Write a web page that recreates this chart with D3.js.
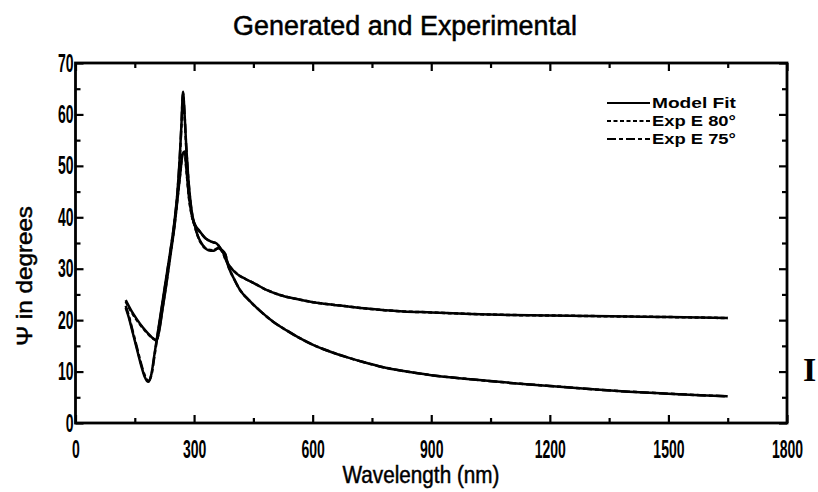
<!DOCTYPE html>
<html>
<head>
<meta charset="utf-8">
<script src="https://cdn.jsdelivr.net/npm/d3@7/dist/d3.min.js"></script>
<style>
  html, body { margin: 0; padding: 0; background: #fff; }
  svg { display: block; }
  text { fill: #000; }
</style>
</head>
<body>
<svg id="chart" width="818" height="492"></svg>
<script>
// Wavelength (nm) sampling for each curve
const lambdaA = [127, 140, 155, 170, 185, 197, 205, 212, 220, 230, 240, 250, 258, 265, 271, 276, 281, 287, 294, 302, 307, 312, 319, 328, 336, 349, 361, 373, 380, 391, 410, 430, 451, 480, 517, 560, 601, 650, 686, 730, 770, 830, 900, 1000, 1100, 1200, 1300, 1400, 1500, 1580, 1650];
// Psi (degrees), upper-tail curve: model fit and measured
const fitA = [23.9, 22.0, 20.2, 18.6, 17.3, 16.4, 16.0, 18.0, 22.0, 27.0, 32.5, 38.0, 43.5, 48.5, 52.3, 52.8, 49.0, 44.0, 40.5, 38.3, 36.9, 35.9, 34.9, 34.0, 33.6, 33.5, 34.0, 33.2, 31.8, 30.4, 28.9, 28.0, 27.2, 26.0, 24.9, 24.1, 23.5, 23.0, 22.7, 22.3, 22.0, 21.7, 21.5, 21.2, 21.0, 20.9, 20.8, 20.7, 20.6, 20.5, 20.4];
const expA = [23.6, 21.8, 20.0, 18.5, 17.2, 16.4, 16.1, 18.3, 22.3, 27.3, 32.8, 38.2, 43.7, 48.6, 52.4, 52.7, 48.8, 43.8, 40.4, 38.2, 36.9, 35.8, 34.8, 34.0, 33.7, 33.6, 34.0, 33.1, 31.7, 30.4, 28.9, 28.0, 27.2, 26.0, 24.9, 24.1, 23.5, 23.0, 22.7, 22.3, 22.0, 21.7, 21.5, 21.2, 21.0, 20.9, 20.8, 20.7, 20.6, 20.5, 20.4];

const lambdaB = [127, 135, 145, 155, 165, 175, 184, 192, 200, 210, 220, 230, 240, 250, 258, 264, 268, 272, 276, 280, 285, 291, 298, 305, 312, 329, 345, 357, 370, 378, 387, 400, 416, 440, 467, 500, 534, 565, 601, 640, 686, 730, 770, 830, 900, 1000, 1100, 1200, 1300, 1400, 1500, 1580, 1650];
// Psi (degrees), lower-tail curve: model fit and measured
const fitB = [22.4, 20.5, 17.5, 14.5, 11.5, 9.0, 8.0, 9.5, 13.5, 18.5, 23.5, 28.5, 33.5, 39.0, 45.0, 52.0, 58.0, 64.4, 60.0, 54.0, 48.0, 43.0, 39.5, 38.2, 37.5, 35.9, 35.2, 34.9, 33.6, 33.0, 30.4, 28.2, 25.9, 23.8, 21.8, 19.7, 18.0, 16.6, 15.2, 14.0, 12.8, 11.8, 11.0, 10.1, 9.3, 8.5, 7.8, 7.2, 6.6, 6.1, 5.7, 5.4, 5.2];
const expB = [22.8, 20.8, 17.8, 14.8, 11.8, 9.3, 8.2, 9.3, 13.2, 18.2, 23.2, 28.3, 33.3, 38.8, 44.8, 51.8, 57.8, 64.0, 59.8, 53.8, 47.8, 42.8, 39.4, 38.1, 37.4, 35.9, 35.2, 34.9, 33.6, 33.0, 30.4, 28.2, 25.9, 23.8, 21.8, 19.7, 18.0, 16.6, 15.2, 14.0, 12.8, 11.8, 11.0, 10.1, 9.3, 8.5, 7.8, 7.2, 6.6, 6.1, 5.7, 5.4, 5.2];

// Axis ticks
const xMajor = [0, 300, 600, 900, 1200, 1500, 1800];
const xMinor = [150, 450, 750, 1050, 1350, 1650];
const yMajor = [0, 10, 20, 30, 40, 50, 60, 70];
const yMinor = [5, 15, 25, 35, 45, 55, 65];

// Legend entries
const legendLabels = ["Model Fit", "Exp E 80°", "Exp E 75°"];
const legendDash = [null, "4,2.5", "9,3,4,3"];

const svg = d3.select("#chart");
const FONT = "'Liberation Sans', Arial, sans-serif";
const TICK_SX = 0.56;

const x = d3.scaleLinear().domain([0, 1800]).range([75.5, 787]);
const y = d3.scaleLinear().domain([0, 70]).range([423, 63]);

// Horizontal scale factor that makes a text element span a given width
function squeeze(sel, width) {
  const w = sel.node().getComputedTextLength();
  return width / w;
}

// Curves
const line = d3.line().x(d => x(d[0])).y(d => y(d[1])).curve(d3.curveMonotoneX);
const curves = [
  { lam: lambdaA, psi: fitA, dash: null },
  { lam: lambdaB, psi: fitB, dash: null },
  { lam: lambdaA, psi: expA, dash: "4,2.5" },
  { lam: lambdaB, psi: expB, dash: "9,3,4,3" }
];
svg.append("g").selectAll("path").data(curves).join("path")
  .attr("d", c => line(c.lam.map((l, i) => [l, c.psi[i]])))
  .attr("fill", "none")
  .attr("stroke", "#000")
  .attr("stroke-width", 2.5)
  .attr("stroke-linejoin", "round")
  .attr("stroke-dasharray", c => c.dash);

// Axes: inward ticks on all four sides
function styleAxis(g) {
  g.select(".domain").remove();
  g.selectAll(".tick line").attr("stroke", "#000").attr("stroke-width", 2.2);
}
const fmt = d3.format("d");
const bottom = svg.append("g").attr("transform", `translate(0,${y(0)})`);
bottom.call(d3.axisBottom(x).tickValues(xMajor).tickFormat(fmt).tickSize(-8).tickSizeOuter(0).tickPadding(17))
  .call(styleAxis);
bottom.append("g").call(d3.axisBottom(x).tickValues(xMinor).tickSize(-5).tickFormat("")).call(styleAxis);
bottom.selectAll(".tick text")
  .attr("font-family", FONT).attr("font-size", 25).attr("font-weight", "bold")
  .attr("fill", "#000")
  .attr("transform", `scale(${TICK_SX},1)`);

const topAx = svg.append("g").attr("transform", `translate(0,${y(70)})`);
topAx.call(d3.axisTop(x).tickValues(xMajor).tickSize(-8).tickFormat("")).call(styleAxis);
topAx.append("g").call(d3.axisTop(x).tickValues(xMinor).tickSize(-5).tickFormat("")).call(styleAxis);

const left = svg.append("g").attr("transform", `translate(${x(0)},0)`);
left.call(d3.axisLeft(y).tickValues(yMajor).tickFormat(fmt).tickSize(-8).tickSizeOuter(0).tickPadding(2))
  .call(styleAxis);
left.append("g").call(d3.axisLeft(y).tickValues(yMinor).tickSize(-5).tickFormat("")).call(styleAxis);
left.selectAll(".tick text")
  .attr("font-family", FONT).attr("font-size", 25).attr("font-weight", "bold")
  .attr("fill", "#000")
  .attr("x", -2 / TICK_SX)
  .attr("transform", `scale(${TICK_SX},1)`);

const right = svg.append("g").attr("transform", `translate(${x(1800)},0)`);
right.call(d3.axisRight(y).tickValues(yMajor).tickSize(-8).tickFormat("")).call(styleAxis);
right.append("g").call(d3.axisRight(y).tickValues(yMinor).tickSize(-5).tickFormat("")).call(styleAxis);

// Frame
svg.append("rect")
  .attr("x", x(0)).attr("y", y(70))
  .attr("width", x(1800) - x(0)).attr("height", y(0) - y(70))
  .attr("fill", "none").attr("stroke", "#000").attr("stroke-width", 2.8);

// Titles
function label(txt, cx, cy, size, width, rotate) {
  const g = svg.append("g");
  const t = g.append("text").text(txt)
    .attr("font-family", FONT).attr("font-size", size)
    .attr("stroke", "#000").attr("stroke-width", 0.5)
    .attr("text-anchor", "middle");
  const s = squeeze(t, width);
  g.attr("transform", `translate(${cx},${cy}) rotate(${rotate || 0}) scale(${s},1)`);
  return g;
}
label("Generated and Experimental", 405, 35, 27, 344);
label("Wavelength (nm)", 421, 483, 24, 157);
label("\u03A8 in degrees", 32, 276, 22, 140, -90);

// Legend
const lg = svg.append("g");
legendLabels.forEach((name, i) => {
  const cy = 103 + i * 18;
  lg.append("line")
    .attr("x1", 607).attr("x2", 650).attr("y1", cy).attr("y2", cy)
    .attr("stroke", "#000").attr("stroke-width", 2)
    .attr("stroke-dasharray", legendDash[i]);
  const g = lg.append("g");
  const t = g.append("text").text(name)
    .attr("font-family", FONT).attr("font-size", 14).attr("font-weight", "bold");
  const s = squeeze(t, 84);
  g.attr("transform", `translate(652,${cy + 5}) scale(${s},1)`);
});

// Stray mark at the right edge
svg.append("text").text("I")
  .attr("x", 803).attr("y", 381)
  .attr("font-family", "'Liberation Serif', serif").attr("font-size", 34)
  .attr("font-weight", "bold");
</script>
</body>
</html>
